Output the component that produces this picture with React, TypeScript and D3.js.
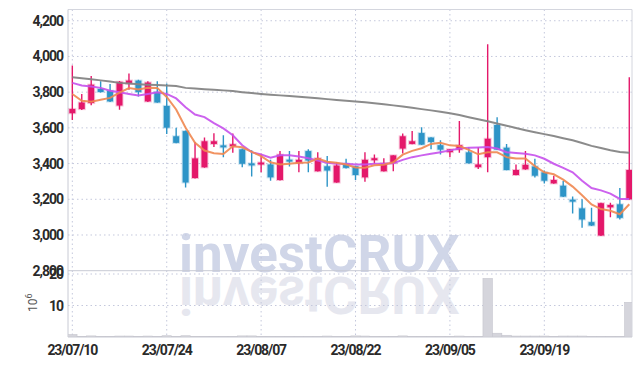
import React from "react";
import * as d3 from "d3";

const dates = [
  "2023-07-10","2023-07-11","2023-07-12","2023-07-13","2023-07-14","2023-07-17","2023-07-18","2023-07-19","2023-07-20","2023-07-21",
  "2023-07-24","2023-07-25","2023-07-26","2023-07-27","2023-07-28","2023-07-31","2023-08-01","2023-08-02","2023-08-03","2023-08-04",
  "2023-08-07","2023-08-08","2023-08-09","2023-08-10","2023-08-11","2023-08-14","2023-08-16","2023-08-17","2023-08-18","2023-08-21",
  "2023-08-22","2023-08-23","2023-08-24","2023-08-25","2023-08-28","2023-08-29","2023-08-30","2023-08-31","2023-09-01","2023-09-04",
  "2023-09-05","2023-09-06","2023-09-07","2023-09-08","2023-09-11","2023-09-12","2023-09-13","2023-09-14","2023-09-15","2023-09-18",
  "2023-09-19","2023-09-20","2023-09-21","2023-09-22","2023-09-25","2023-09-26","2023-09-27","2023-10-04","2023-10-05","2023-10-06",
];

const opens = [
  3682,3705,3739,3818,3808,3725,3848,3865,3748,3801,
  3723,3553,3582,3319,3379,3510,3502,3497,3480,3401,
  3395,3395,3308,3422,3402,3470,3357,3385,3294,3399,
  3385,3323,3419,3357,3402,3484,3510,3571,3546,3503,
  3464,3478,3463,3380,3436,3616,3489,3336,3368,3384,
  3351,3289,3276,3198,3149,3072,2997,3155,3172,3200,
];
const highs = [
  3950,3790,3890,3861,3846,3862,3905,3870,3861,3861,
  3848,3601,3585,3521,3546,3570,3559,3569,3484,3474,
  3455,3421,3470,3470,3470,3480,3464,3442,3408,3427,
  3388,3464,3451,3430,3446,3569,3582,3603,3548,3531,
  3482,3639,3493,3493,4069,3659,3510,3395,3470,3427,
  3361,3332,3303,3215,3200,3153,3180,3181,3263,3884,
];
const lows = [
  3644,3700,3727,3798,3745,3701,3814,3776,3745,3740,
  3565,3514,3266,3317,3377,3493,3436,3461,3379,3327,
  3351,3304,3305,3383,3351,3351,3355,3270,3292,3372,
  3308,3298,3399,3355,3357,3456,3508,3504,3480,3451,
  3436,3461,3400,3370,3351,3476,3362,3334,3366,3322,
  3289,3287,3213,3121,3040,3051,2995,3100,3087,3198,
];
const closes = [
  3706,3742,3842,3801,3748,3858,3865,3801,3854,3742,
  3601,3516,3294,3429,3525,3525,3498,3508,3399,3398,
  3406,3323,3450,3420,3421,3417,3430,3361,3389,3376,
  3336,3421,3430,3402,3446,3553,3525,3506,3521,3478,
  3480,3503,3402,3395,3539,3478,3364,3364,3393,3332,
  3304,3308,3215,3194,3087,3053,3178,3168,3096,3364,
];

const ma5 = [
  3790,3752,3747,3758,3768,3798,3823,3815,3825,3824,
  3773,3703,3601,3516,3473,3458,3454,3497,3491,3466,
  3442,3407,3395,3399,3404,3406,3428,3410,3404,3395,
  3378,3377,3390,3393,3407,3450,3471,3486,3510,3517,
  3502,3498,3477,3452,3464,3463,3436,3428,3428,3386,
  3351,3340,3310,3271,3222,3171,3145,3136,3116,3172,
];
const ma20 = [
  3852,3837,3832,3824,3808,3799,3790,3782,3790,3799,
  3790,3765,3715,3675,3660,3627,3597,3559,3503,3464,
  3451,3433,3446,3446,3440,3430,3417,3405,3399,3399,
  3395,3395,3399,3399,3402,3421,3436,3446,3455,3464,
  3474,3484,3488,3490,3493,3484,3464,3459,3455,3446,
  3427,3399,3376,3351,3304,3263,3250,3232,3202,3202,
];
const maLong = [
  3884,3878,3872,3866,3860,3852,3848,3845,3842,3840,
  3837,3835,3824,3820,3817,3814,3810,3806,3800,3795,
  3790,3786,3782,3778,3774,3770,3766,3761,3756,3752,
  3748,3743,3738,3732,3726,3720,3713,3705,3698,3690,
  3682,3672,3660,3648,3637,3625,3612,3599,3587,3576,
  3565,3554,3542,3531,3515,3499,3487,3475,3465,3461,
];
const volumes = [
  0.8,0.15,0.35,0.1,0.1,0.3,0.3,0.1,0.3,0.15,
  0.4,0.15,0.4,0.2,0.15,0.1,0.1,0.15,0.35,0.35,
  0.15,0.1,0.1,0.1,0.1,0.15,0.1,0.3,0.1,0.1,
  0.35,0.3,0.1,0.1,0.1,0.35,0.1,0.1,0.1,0.1,
  0.1,0.3,0.1,0.1,18.6,1.2,0.55,0.3,0.3,0.3,
  0.3,0.1,0.3,0.3,0.3,0.1,0.1,0.1,0.1,11.0,
];

const priceTicks = [2800, 3000, 3200, 3400, 3600, 3800, 4000, 4200];
const volumeTicks = [10, 20];
const dateTickIdx = [0, 10, 20, 30, 40, 50];

const UP = "#e4186a";
const DOWN = "#2e95c7";

export default function App() {
  const W = 642, H = 366;
  const left = 68, right = 632, pTop = 9.5, pBottom = 270.7, vTop = 274, vBottom = 337;

  const x = d3.scaleBand<string>().domain(dates).range([67.6, 634]).padding(0);
  const cx = (i: number) => (x(dates[i]) as number) + x.bandwidth() / 2;
  const y = d3.scaleLinear().domain([2800, 4263]).range([pBottom, pTop]);
  const yv = d3.scaleLinear().domain([0, 20]).range([vBottom, vTop]);

  const line = (arr: number[]) =>
    d3.line<number>().x((_, i) => cx(i)).y((d) => y(d))(arr) as string;

  const fmt = d3.format(",");
  const parse = d3.timeParse("%Y-%m-%d");
  const dfmt = d3.timeFormat("%y/%m/%d");
  const bodyW = 6;
  const gridColor = "#c4c8dc";
  const font = "Roboto, 'DejaVu Sans', sans-serif";

  return (
    <svg width={W} height={H} style={{ position: "absolute", left: 0, top: 0, background: "#fff" }}>
      <defs>
        <clipPath id="plotClip">
          <rect x={left} y={pTop} width={right - left} height={vBottom - pTop} />
        </clipPath>
      </defs>

      {/* watermark */}
      <g fontFamily={font} fontWeight={700}>
        <text x={179} y={271.5} fontSize={51} fill="#d0d6e8" textLength={281} lengthAdjust="spacingAndGlyphs">investCRUX</text>
        <text x={179} y={271.5} fontSize={51} fill="#e6e7ef" textLength={281} lengthAdjust="spacingAndGlyphs" transform="translate(0,548) scale(1,-1)">investCRUX</text>
      </g>

      {/* horizontal grid, price */}
      {priceTicks.filter((t) => t > 2800).map((t) => (
        <line key={"pg" + t} x1={left} x2={right} y1={y(t)} y2={y(t)} stroke={gridColor} strokeDasharray="1.5,3" />
      ))}
      {volumeTicks.map((t) => (
        <line key={"vg" + t} x1={left} x2={right} y1={yv(t)} y2={yv(t)} stroke={gridColor} strokeDasharray="1.5,3" />
      ))}
      {/* vertical grid */}
      {dateTickIdx.map((i) => (
        <line key={"xg" + i} x1={cx(i)} x2={cx(i)} y1={pTop} y2={vBottom} stroke={gridColor} strokeDasharray="1.5,3" />
      ))}

      {/* frame */}
      <line x1={left} x2={right} y1={pTop} y2={pTop} stroke="#d4d6de" />
      <line x1={right} x2={right} y1={pTop} y2={vBottom} stroke="#d4d6de" />
      <line x1={left} x2={left} y1={pTop} y2={vBottom} stroke="#c8cad4" />
      <line x1={left} x2={right} y1={pBottom} y2={pBottom} stroke="#c8cad4" />
      <line x1={left} x2={right} y1={vBottom} y2={vBottom} stroke="#c8cad4" />

      <g clipPath="url(#plotClip)">
        {/* volume bars */}
        {volumes.map((v, i) => (
          <rect key={"v" + i} x={x(dates[i]) as number} width={x.bandwidth()} y={yv(v)} height={vBottom - yv(v)}
            fill="#d5d5dc" stroke="#c6c6ce" strokeWidth={0.6} />
        ))}

        {/* candles */}
        {dates.map((d, i) => {
          const up = closes[i] >= opens[i];
          const col = up ? UP : DOWN;
          const top = y(Math.max(opens[i], closes[i]));
          const bot = y(Math.min(opens[i], closes[i]));
          const h = Math.max(2, bot - top);
          return (
            <g key={"c" + i}>
              <line x1={cx(i)} x2={cx(i)} y1={y(highs[i])} y2={y(lows[i])} stroke={col} strokeWidth={1.4} />
              <rect x={cx(i) - bodyW / 2} y={top} width={bodyW} height={h} fill={col} stroke={col} strokeOpacity={0.25} strokeWidth={2} />
            </g>
          );
        })}

        {/* moving averages */}
        <path d={line(maLong)} fill="none" stroke="#858585" strokeWidth={2} strokeOpacity={0.95} />
        <path d={line(ma20)} fill="none" stroke="#c651ec" strokeWidth={2} strokeOpacity={0.9} />
        <path d={line(ma5)} fill="none" stroke="#ef8750" strokeWidth={2} strokeOpacity={0.9} />
      </g>

      {/* y labels */}
      <g fontFamily={font} fontSize={14} fontWeight={700} fill="#2a2a2a" textAnchor="end" letterSpacing={-1}>
        {priceTicks.map((t) => (
          <text key={"pl" + t} x={63} y={y(t) + 5}>{fmt(t)}</text>
        ))}
        {volumeTicks.map((t) => (
          <text key={"vl" + t} x={63} y={yv(t) + 5}>{t}</text>
        ))}
      </g>
      <text transform="translate(37,312) rotate(-90)" fontFamily={font} fontSize={12} fill="#555">
        10<tspan dy={-5} fontSize={9}>6</tspan>
      </text>

      {/* x labels */}
      <g fontFamily={font} fontSize={14} fontWeight={700} fill="#2a2a2a" textAnchor="middle" letterSpacing={-1.1}>
        {dateTickIdx.map((i) => (
          <text key={"xl" + i} x={cx(i)} y={355}>{dfmt(parse(dates[i]) as Date)}</text>
        ))}
      </g>
    </svg>
  );
}
